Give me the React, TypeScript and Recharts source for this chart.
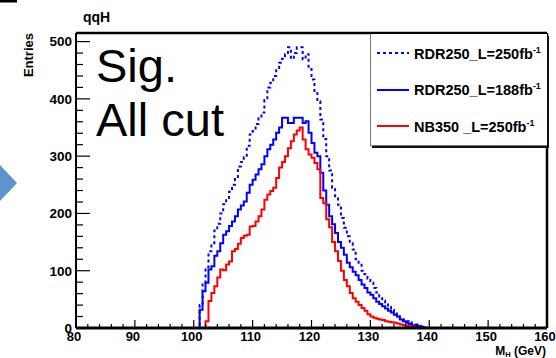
import React from "react";
import { LineChart, Line, XAxis, YAxis, ReferenceLine, Legend } from "recharts";

// low edge of each 0.5 GeV bin that carries entries
const BIN_LOW = [
  100, 100.5, 101, 101.5, 102, 102.5, 103, 103.5, 104, 104.5,
  105, 105.5, 106, 106.5, 107, 107.5, 108, 108.5, 109, 109.5,
  110, 110.5, 111, 111.5, 112, 112.5, 113, 113.5, 114, 114.5,
  115, 115.5, 116, 116.5, 117, 117.5, 118, 118.5, 119, 119.5,
  120, 120.5, 121, 121.5, 122, 122.5, 123, 123.5, 124, 124.5,
  125, 125.5, 126, 126.5, 127, 127.5, 128, 128.5, 129, 129.5,
  130, 130.5, 131, 131.5, 132, 132.5, 133, 133.5, 134, 134.5,
  135, 135.5, 136, 136.5, 137, 137.5, 138, 138.5, 139, 139.5,
];

const RDR250_L250 = [
  0, 0, 40, 76, 106, 134, 148, 170, 182, 200,
  216, 225, 238, 250, 262, 282, 290, 298, 318, 338,
  344, 356, 366, 376, 398, 420, 428, 440, 450, 463,
  470, 478, 490, 470, 480, 490, 490, 469, 478, 452,
  434, 410, 396, 364, 330, 300, 275, 245, 230, 215,
  192, 175, 160, 148, 137, 120, 112, 100, 94, 86,
  79, 70, 62, 55, 48, 43, 37, 32, 27, 22,
  18, 15, 12, 10, 8, 6, 4, 3, 1, 0,
];

const RDR250_L188 = [
  0, 0, 32, 64, 79, 102, 108, 126, 134, 148,
  163, 169, 178, 186, 195, 207, 214, 221, 236, 250,
  259, 268, 277, 286, 300, 312, 320, 329, 341, 350,
  367, 367, 358, 358, 367, 367, 367, 358, 361, 341,
  323, 306, 300, 271, 240, 215, 195, 181, 166, 150,
  140, 128, 114, 106, 98, 92, 84, 76, 70, 62,
  58, 52, 46, 42, 38, 34, 30, 27, 23, 20,
  15, 12, 9, 7, 5, 4, 3, 2, 0, 0,
];

const NB350_L250 = [
  0, 0, 0, 0, 12, 47, 61, 73, 88, 102,
  101, 111, 116, 134, 138, 147, 157, 161, 163, 177,
  178, 186, 195, 207, 224, 233, 239, 245, 262, 280,
  290, 300, 314, 326, 338, 345, 350, 329, 312, 303,
  297, 288, 277, 227, 218, 190, 176, 150, 134, 117,
  100, 84, 73, 61, 52, 46, 40, 35, 30, 24,
  20, 18, 16, 15, 14, 12, 11, 10, 9, 8,
  6, 5, 4, 3, 2, 1, 0, 0, 0, 0,
];

const SERIES_NAMES = ["RDR250_L=250fb", "RDR250_L=188fb", "NB350 _L=250fb"];

const X_TICKS = [
  80, 82, 84, 86, 88, 90, 92, 94, 96, 98, 100, 102, 104, 106, 108, 110, 112, 114, 116, 118,
  120, 122, 124, 126, 128, 130, 132, 134, 136, 138, 140, 142, 144, 146, 148, 150, 152, 154,
  156, 158, 160,
];
const X_LABELS = [80, 90, 100, 110, 120, 130, 140, 150, 160];
const Y_TICKS = [
  0, 20, 40, 60, 80, 100, 120, 140, 160, 180, 200, 220, 240, 260, 280, 300, 320, 340, 360,
  380, 400, 420, 440, 460, 480, 500,
];
const Y_LABELS = [0, 100, 200, 300, 400, 500];

const FONT = "'Liberation Sans', Arial, Helvetica, sans-serif";
const PLOT_LEFT = 76;
const PLOT_BOTTOM = 328;

function toSeries(values: number[]) {
  return [
    { m: 80, n: 0 },
    ...BIN_LOW.map((b, i) => ({ m: b, n: values[i] })),
    { m: 140, n: 0 },
    { m: 160, n: 0 },
  ];
}

const SERIES = [
  { name: SERIES_NAMES[0], data: toSeries(RDR250_L250), color: "#0000ff", dash: "3 3" },
  { name: SERIES_NAMES[1], data: toSeries(RDR250_L188), color: "#0000ff", dash: undefined },
  { name: SERIES_NAMES[2], data: toSeries(NB350_L250), color: "#ff0000", dash: undefined },
];

function YTick(props: any) {
  const { y, payload } = props;
  const major = Y_LABELS.includes(payload.value);
  return (
    <g>
      <line x1={PLOT_LEFT} x2={PLOT_LEFT + (major ? 14 : 7)} y1={y} y2={y} stroke="#000" strokeWidth={1.2} />
      {major && (
        <text x={PLOT_LEFT - 4} y={y} dy="0.36em" textAnchor="end" fontFamily={FONT} fontWeight="bold" fontSize={13.5} fill="#000">
          {payload.value}
        </text>
      )}
    </g>
  );
}

function XTick(props: any) {
  const { x, payload } = props;
  const major = X_LABELS.includes(payload.value);
  return (
    <g>
      <line x1={x} x2={x} y1={PLOT_BOTTOM} y2={PLOT_BOTTOM - (major ? 8 : 4)} stroke="#000" strokeWidth={1.2} />
      {major && (
        <text x={x - 2} y={341} textAnchor="middle" fontFamily={FONT} fontWeight="bold" fontSize={13} fill="#000">
          {payload.value}
        </text>
      )}
    </g>
  );
}

function LegendBox() {
  return (
    <div
      style={{
        width: 176,
        height: 111,
        background: "#fff",
        borderLeft: "1px solid #777",
        borderBottom: "1px solid #777",
        boxShadow: "2px 2px 0 #111",
        position: "relative",
        fontFamily: FONT,
      }}
    >
      {SERIES.map((s, i) => (
        <div key={s.name} style={{ position: "absolute", left: 6, top: 10 + i * 36.7, height: 18, display: "flex", alignItems: "center" }}>
          <svg width={32} height={6}>
            <line x1={0} x2={32} y1={3} y2={3} stroke={s.color} strokeWidth={2} strokeDasharray={s.dash} />
          </svg>
          <span style={{ marginLeft: 5, fontWeight: "bold", fontSize: 14.5, color: "#000", whiteSpace: "nowrap" }}>
            {s.name}
            <sup style={{ fontSize: 9 }}>-1</sup>
          </span>
        </div>
      ))}
    </div>
  );
}

export default function App() {
  return (
    <div style={{ position: "absolute", left: 0, top: 0, width: 556, height: 358, background: "#fff" }}>
      <svg width={556} height={358} style={{ position: "absolute", left: 0, top: 0 }}>
        <rect x={0} y={0} width={17} height={2.5} fill="#000" />
        <polygon points="0,165 17,183 0,201" fill="#5f93d0" />
      </svg>
      <div style={{ position: "absolute", left: 0, top: 0 }}>
        <LineChart width={556} height={358} margin={{ top: 33, right: 9, bottom: 0, left: 16 }}>
          <XAxis
            dataKey="m"
            type="number"
            domain={[80, 160]}
            ticks={X_TICKS}
            interval={0}
            tick={<XTick />}
            tickLine={false}
            axisLine={{ stroke: "#000", strokeWidth: 3 }}
            height={30}
            allowDataOverflow
            label={{
              content: () => (
                <text x={546} y={355} textAnchor="end" fontFamily={FONT} fontWeight="bold" fontSize={12} fill="#000">
                  M<tspan fontSize={7.5} dy={2}>H</tspan>
                  <tspan dy={-2}> (GeV)</tspan>
                </text>
              ),
            }}
          />
          <YAxis
            type="number"
            domain={[0, 515]}
            ticks={Y_TICKS}
            interval={0}
            tick={<YTick />}
            tickLine={false}
            axisLine={{ stroke: "#000", strokeWidth: 2 }}
            width={60}
            allowDataOverflow
            label={{
              content: () => (
                <text x={33} y={33} transform="rotate(-90 33 33)" textAnchor="end" fontFamily={FONT} fontWeight="bold" fontSize={13} fill="#000">
                  Entries
                </text>
              ),
            }}
          />
          <ReferenceLine y={515} stroke="#000" strokeWidth={2.5} />
          <ReferenceLine x={160} stroke="#000" strokeWidth={2.5} />
          {SERIES.map((s) => (
            <Line
              key={s.name}
              data={s.data}
              dataKey="n"
              name={s.name}
              type="stepAfter"
              stroke={s.color}
              strokeWidth={2}
              strokeDasharray={s.dash}
              dot={false}
              activeDot={false}
              isAnimationActive={false}
            />
          ))}
          <Legend
            layout="vertical"
            align="center"
            verticalAlign="middle"
            wrapperStyle={{ left: 370, top: 34, width: 177, height: 112 }}
            content={() => <LegendBox />}
          />
        </LineChart>
      </div>
      <svg width={556} height={358} style={{ position: "absolute", left: 0, top: 0, pointerEvents: "none" }}>
        <text x={83} y={22} fontFamily={FONT} fontWeight="bold" fontSize={14} fill="#000">
          qqH
        </text>
        <text x={96} y={82} fontFamily={FONT} fontSize={47} fill="#000">
          Sig.
        </text>
        <text x={96} y={136} fontFamily={FONT} fontSize={47} fill="#000">
          All cut
        </text>
      </svg>
    </div>
  );
}
